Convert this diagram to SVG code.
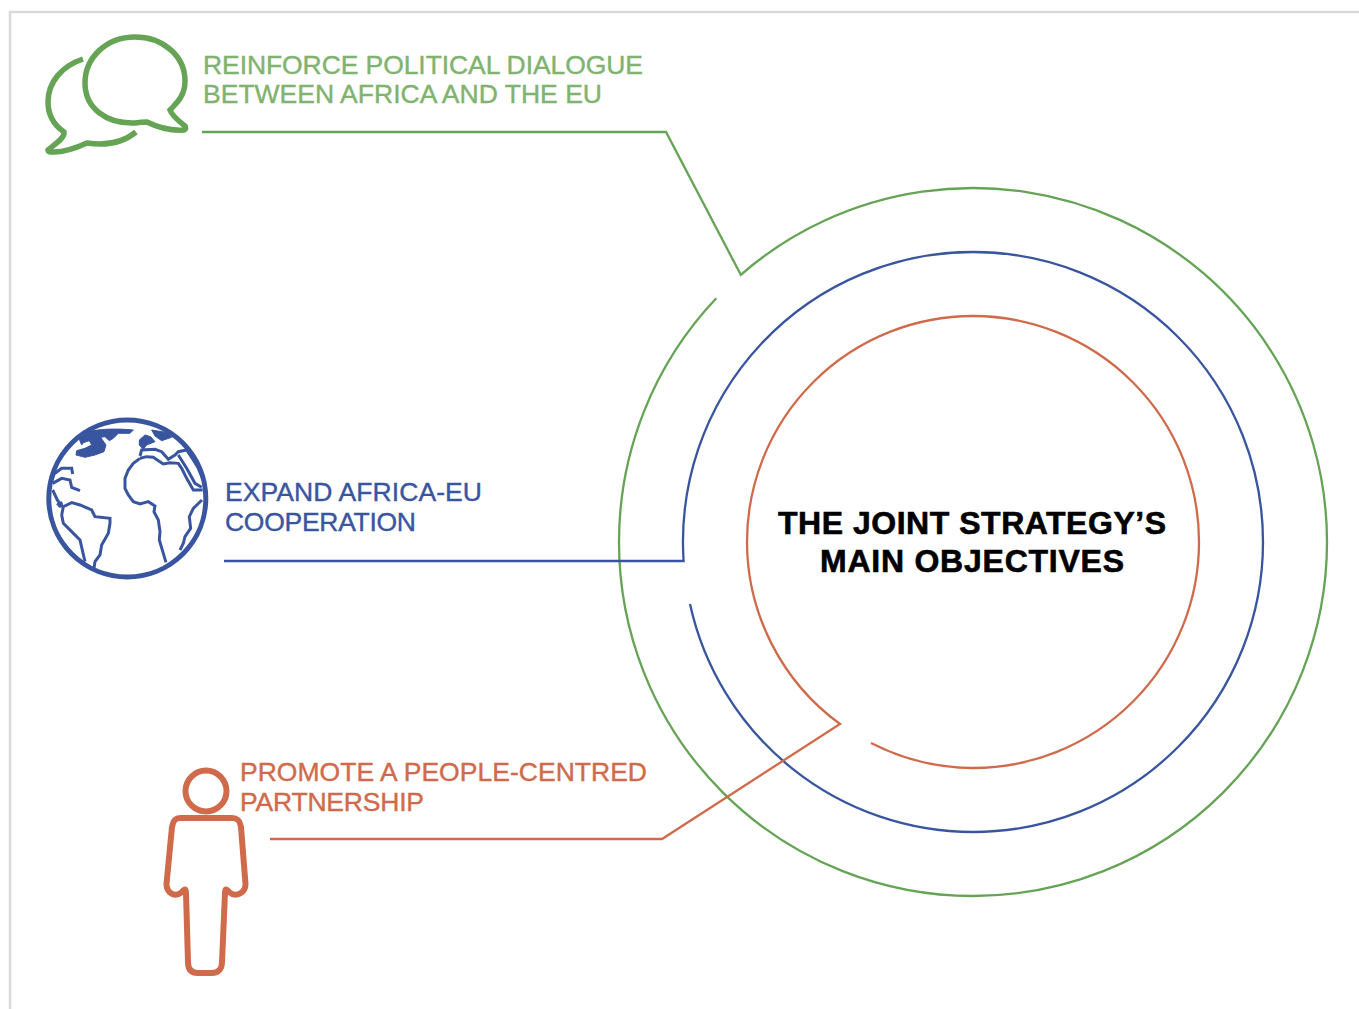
<svg xmlns="http://www.w3.org/2000/svg" width="1359" height="1009" viewBox="0 0 1359 1009">
<style>
.l{fill:none;stroke-linecap:butt;stroke-linejoin:miter}
.g{stroke:#65a355}.b{stroke:#3a55a0}.o{stroke:#cf6b4b}
.t{font-family:"Liberation Sans",Arial,sans-serif;font-size:26.500px;stroke-width:.4;stroke:currentColor}
.tg{fill:#7fb36f;color:#7fb36f}.tb{fill:#3a55a0;color:#3a55a0}.to{fill:#cf6b4b;color:#cf6b4b}
.h{font-family:"Liberation Sans",Arial,sans-serif;font-size:32px;font-weight:bold;fill:#000;stroke:#000;stroke-width:.6}
</style>
<rect width="1359" height="1009" fill="#fff"/>
<path d="M10 1009V12H1359" fill="none" stroke="#d9d9d9" stroke-width="2.500"/>
<g id="connectors" class="l" stroke-width="2.300">
<path class="g" d="M202 132H666L740.800 274.800A354 354 0 0 1 1327 542A354 354 0 0 1 973 896A354 354 0 0 1 619 542A354 354 0 0 1 716.300 298.300"/>
<path class="b" d="M224 561H683.600A290 290 0 0 1 973 252A290 290 0 0 1 1263 542A290 290 0 0 1 973 832A290 290 0 0 1 690 604"/>
<path class="o" d="M270 839H662L840 724A226 226 0 0 1 747 542A226 226 0 0 1 973 316A226 226 0 0 1 1199 542A226 226 0 0 1 973 768A226 226 0 0 1 871 743"/>
</g>
<g id="node-dialogue">
<g class="l g" stroke-width="5.500" stroke-linecap="round" stroke-linejoin="round">
<path d="M135 37C106 37 85 58 85 83C85 108 106 124 135 123C141 122 146 122 147 122C157 127 169 131 184 130C186 129 186 128 185 126C180 122 172 116 170 110C174 105 185 98 185 81C185 56 163 37 135 37Z"/>
<path d="M83 59C62 66 48 82 48 102C48 115 54 125 64 132C65 138 55 144 48 150C48 152 50 152 54 152C66 152 76 148 87 143C100 145 120 145 136 132"/>
</g>
<text class="t tg" x="203" y="73.500" textLength="440" lengthAdjust="spacing">REINFORCE POLITICAL DIALOGUE</text>
<text class="t tg" x="203" y="102.500" textLength="399" lengthAdjust="spacing">BETWEEN AFRICA AND THE EU</text>
</g>
<g id="node-cooperation">
<circle class="l b" cx="127.300" cy="498.500" r="78.500" stroke-width="5"/>
<g transform="translate(30 400) scale(.3333)">
<g class="l b" stroke-width="9" stroke-linejoin="round">
<path d="M330 175L310 190L295 210L285 235L285 265L295 285L310 305L330 312L355 305L375 318L372 335L385 360L390 395L388 420L400 460L408 487"/>
<path d="M450 450L460 430L465 410L482 385L478 350L490 325L516 300"/>
<path d="M330 175L350 170L370 172L385 182L400 192L420 188L445 190L455 205L470 235L490 270L518 270"/>
<path d="M330 168L335 150L375 148L395 155L415 178L435 165L445 155L470 150L490 180L505 205L522 245"/>
<path d="M445 165L470 205L495 250L515 262"/>
<path d="M95 345L100 320L125 308L150 315L185 330L195 350L240 355L240 370L235 400L215 435L210 465L195 485L192 505"/>
<path d="M95 345L100 370L125 395L150 420L165 485"/>
<path d="M65 245L72 222L95 205L125 205L128 222M68 250L95 235L120 240L125 262L150 272M68 270L82 300L95 318"/>
</g>
<g class="b" fill="#3a55a0" stroke-width="3" stroke-linejoin="round">
<path d="M150 105C185 85 260 85 310 90L300 100L265 100L250 115L238 122L225 110L212 112L228 135L222 155L195 165L165 172L138 165L140 152L165 145L185 135L178 122L160 128L155 135L148 118Z"/>
<path d="M328 120L345 105L362 110L375 125L350 135L340 148L328 135Z"/>
<path d="M365 90L415 98L425 112L395 122L375 108Z"/>
<path d="M80 312L95 305L100 320L88 322Z"/>
</g>
</g>
<text class="t tb" x="225" y="500.500" textLength="257" lengthAdjust="spacing">EXPAND AFRICA-EU</text>
<text class="t tb" x="225" y="530.500" textLength="191" lengthAdjust="spacing">COOPERATION</text>
</g>
<g id="node-partnership">
<g class="l o" stroke-width="6" stroke-linejoin="round">
<circle cx="206" cy="791" r="20.500"/>
<path d="M180 818H232C238 818 240 821 241 827L245.500 884C245.500 893 236 898 229 892C226 888 225 889 225 893L222 962C222 970 217 973 212 973H198C192 973 188 970 188 962L186 893C186 889 185 888 182 892C175 898 166.500 893 166.500 884L172 827C173 821 175 818 180 818Z"/>
</g>
<text class="t to" x="240" y="780.500" textLength="407" lengthAdjust="spacing">PROMOTE A PEOPLE-CENTRED</text>
<text class="t to" x="240" y="810.500" textLength="184" lengthAdjust="spacing">PARTNERSHIP</text>
</g>
<g id="node-center">
<text class="h" x="778" y="534" textLength="388" lengthAdjust="spacing">THE JOINT STRATEGY’S</text>
<text class="h" x="820" y="572" textLength="304" lengthAdjust="spacing">MAIN OBJECTIVES</text>
</g>
</svg>
